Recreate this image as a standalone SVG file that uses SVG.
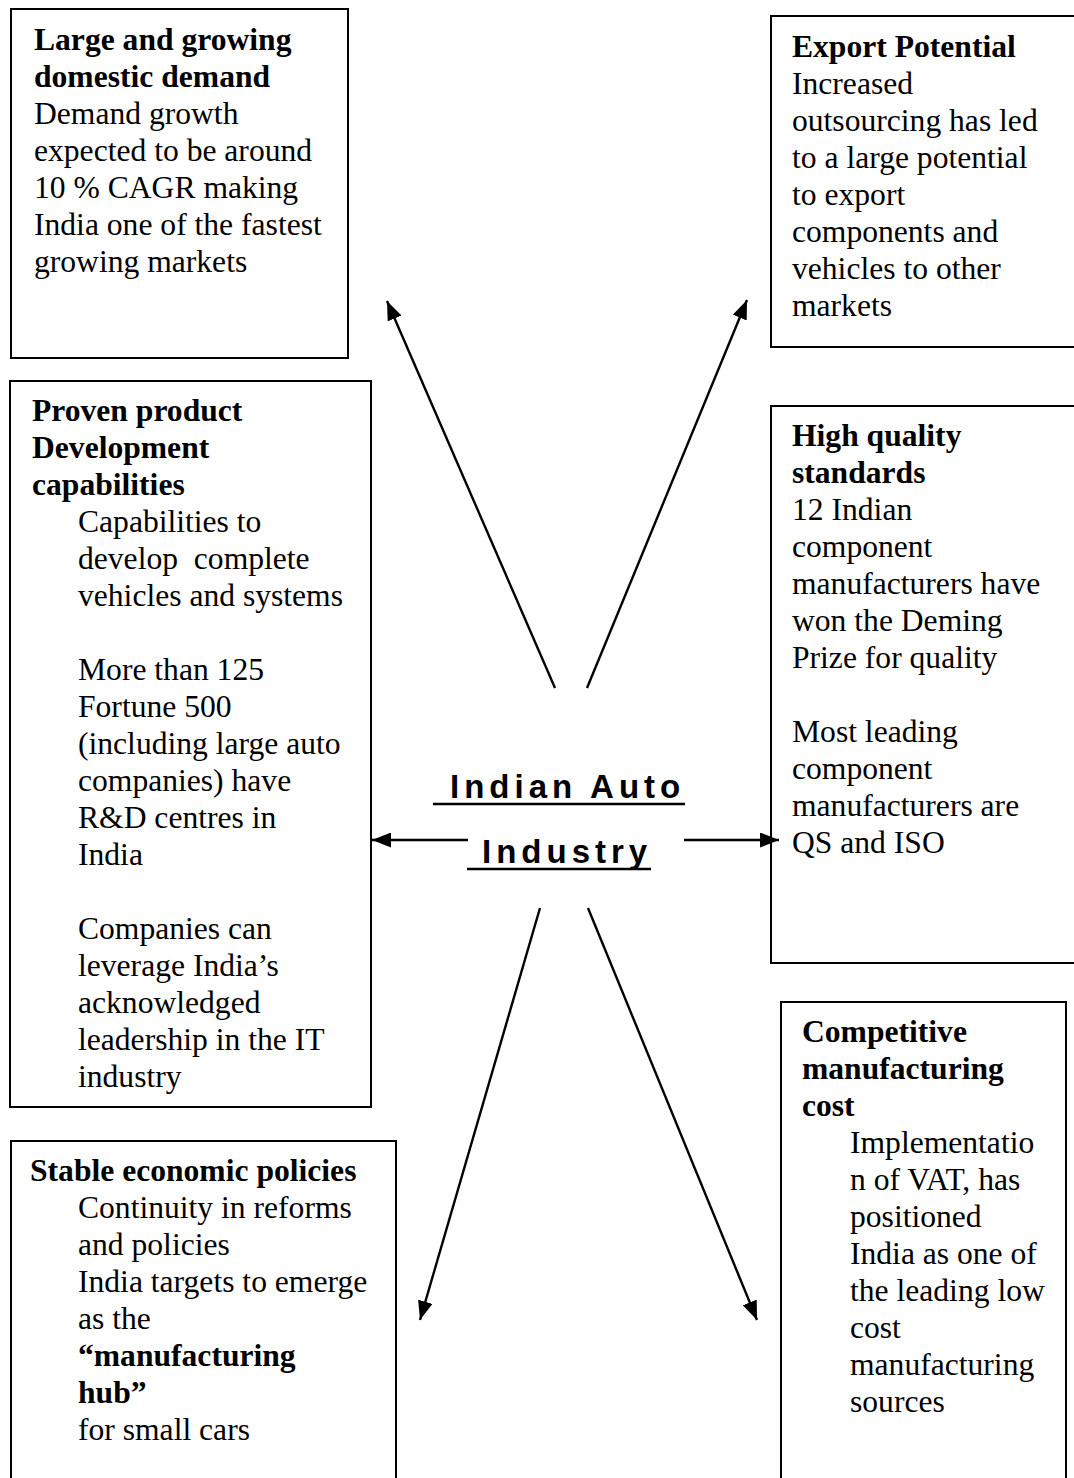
<svg xmlns="http://www.w3.org/2000/svg" width="1074" height="1478" viewBox="0 0 1074 1478">
<style>
.box{fill:none;stroke:#000;stroke-width:2}
.t{font-family:"Liberation Serif","Times New Roman",serif;font-size:31.6px;fill:#000}
.b{font-weight:bold}
.title{font-family:"Liberation Sans",Arial,sans-serif;font-size:33px;font-weight:bold;letter-spacing:5px;fill:#000}
.ul{stroke:#000;stroke-width:2.5}
.conn{stroke:#000;stroke-width:2.4;fill:none;marker-end:url(#ah)}
</style>
<defs>
<marker id="ah" markerUnits="userSpaceOnUse" markerWidth="20" markerHeight="15" refX="19" refY="7.5" orient="auto">
<path d="M0,0 L19,7.5 L0,15 z" fill="#000"/>
</marker>
</defs>
<rect width="1074" height="1478" fill="#fff"/>

<g id="node-domestic-demand">
<rect class="box" x="11" y="9" width="337" height="349"/>
<g class="t">
<text x="34" y="50" class="b">Large and growing</text>
<text x="34" y="87" class="b">domestic demand</text>
<text x="34" y="124">Demand growth</text>
<text x="34" y="161">expected to be around</text>
<text x="34" y="198">10 % CAGR making</text>
<text x="34" y="235">India one of the fastest</text>
<text x="34" y="272">growing markets</text>
</g>
</g>

<g id="node-export-potential">
<path class="box" d="M1080,16 H771 V347 H1080"/>
<g class="t">
<text x="792" y="57" class="b">Export Potential</text>
<text x="792" y="94">Increased</text>
<text x="792" y="131">outsourcing has led</text>
<text x="792" y="168">to a large potential</text>
<text x="792" y="205">to export</text>
<text x="792" y="242">components and</text>
<text x="792" y="279">vehicles to other</text>
<text x="792" y="316">markets</text>
</g>
</g>

<g id="node-product-development">
<rect class="box" x="10" y="381" width="361" height="726"/>
<g class="t">
<text x="32" y="421" class="b">Proven product</text>
<text x="32" y="458" class="b">Development</text>
<text x="32" y="495" class="b">capabilities</text>
<text x="78" y="532">Capabilities to</text>
<text x="78" y="569" xml:space="preserve">develop  complete</text>
<text x="78" y="606">vehicles and systems</text>
<text x="78" y="680">More than 125</text>
<text x="78" y="717">Fortune 500</text>
<text x="78" y="754">(including large auto</text>
<text x="78" y="791">companies) have</text>
<text x="78" y="828">R&amp;D centres in</text>
<text x="78" y="865">India</text>
<text x="78" y="939">Companies can</text>
<text x="78" y="976">leverage India’s</text>
<text x="78" y="1013">acknowledged</text>
<text x="78" y="1050">leadership in the IT</text>
<text x="78" y="1087">industry</text>
</g>
</g>

<g id="node-quality-standards">
<path class="box" d="M1080,406 H771 V963 H1080"/>
<g class="t">
<text x="792" y="446" class="b">High quality</text>
<text x="792" y="483" class="b">standards</text>
<text x="792" y="520">12 Indian</text>
<text x="792" y="557">component</text>
<text x="792" y="594">manufacturers have</text>
<text x="792" y="631">won the Deming</text>
<text x="792" y="668">Prize for quality</text>
<text x="792" y="742">Most leading</text>
<text x="792" y="779">component</text>
<text x="792" y="816">manufacturers are</text>
<text x="792" y="853">QS and ISO</text>
</g>
</g>

<g id="node-economic-policies">
<path class="box" d="M11,1480 V1141 H396 V1480"/>
<g class="t">
<text x="30" y="1181" class="b">Stable economic policies</text>
<text x="78" y="1218">Continuity in reforms</text>
<text x="78" y="1255">and policies</text>
<text x="78" y="1292">India targets to emerge</text>
<text x="78" y="1329">as the</text>
<text x="78" y="1366" class="b">“manufacturing</text>
<text x="78" y="1403" class="b">hub”</text>
<text x="78" y="1440">for small cars</text>
</g>
</g>

<g id="node-manufacturing-cost">
<path class="box" d="M781,1480 V1002 H1066 V1480"/>
<g class="t">
<text x="802" y="1042" class="b">Competitive</text>
<text x="802" y="1079" class="b">manufacturing</text>
<text x="802" y="1116" class="b">cost</text>
<text x="850" y="1153">Implementatio</text>
<text x="850" y="1190">n of VAT, has</text>
<text x="850" y="1227">positioned</text>
<text x="850" y="1264">India as one of</text>
<text x="850" y="1301">the leading low</text>
<text x="850" y="1338">cost</text>
<text x="850" y="1375">manufacturing</text>
<text x="850" y="1412">sources</text>
</g>
</g>

<g id="node-indian-auto-industry">
<text class="title" x="450" y="798">Indian Auto</text>
<line class="ul" x1="433" y1="804" x2="685" y2="804"/>
<text class="title" x="482" y="863">Industry</text>
<line class="ul" x1="467" y1="869" x2="651" y2="869"/>
</g>

<g id="connectors">
<line class="conn" x1="555" y1="688" x2="387" y2="301"/>
<line class="conn" x1="587" y1="688" x2="747" y2="300"/>
<line class="conn" x1="468" y1="840" x2="372" y2="840"/>
<line class="conn" x1="684" y1="840" x2="779" y2="840"/>
<line class="conn" x1="540" y1="908" x2="420" y2="1320"/>
<line class="conn" x1="588" y1="908" x2="757" y2="1320"/>
</g>
</svg>
